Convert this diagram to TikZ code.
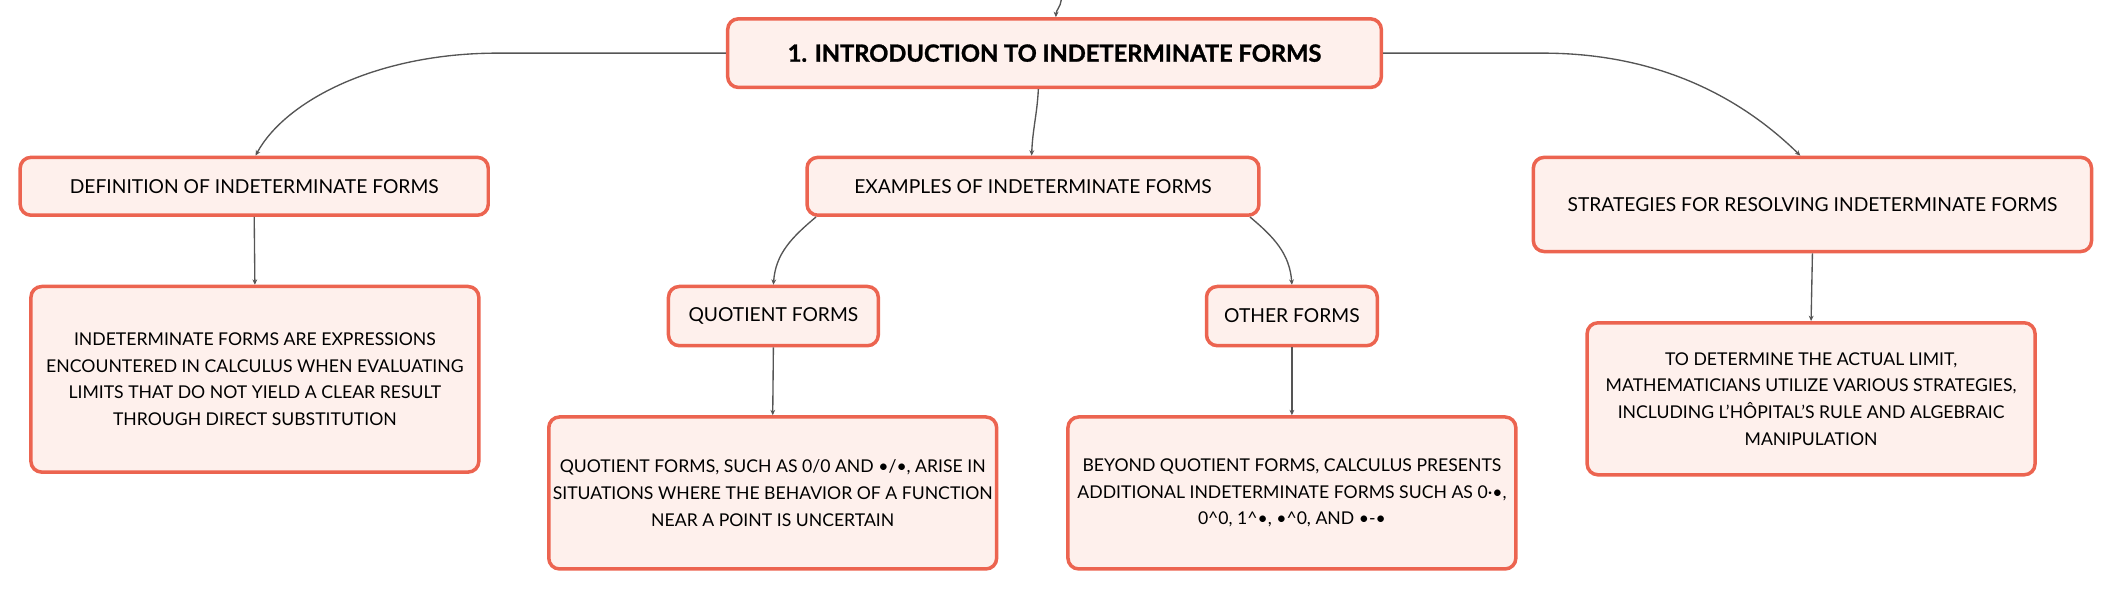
\documentclass[tikz,border=0pt]{standalone}
\usepackage{fontspec}
\setmainfont{Lato}
\usetikzlibrary{arrows.meta}
\definecolor{boxline}{HTML}{EC6450}
\definecolor{boxfill}{HTML}{FEF0EC}
\definecolor{linkgray}{HTML}{555555}
\begin{document}
\begin{tikzpicture}[x=0.5pt,y=-0.5pt,
  box/.style={draw=boxline,fill=boxfill,line width=1.3pt,rounded corners=4pt,
    align=center,inner sep=0pt,font=\fontsize{7.15}{9.9}\selectfont},
  note/.style={box,minimum width=166.5pt,font=\fontsize{6.55}{9.9}\selectfont},
  link/.style={draw=linkgray,line width=0.5pt,-{Stealth[length=2pt,width=1.8pt]}}]
\useasboundingbox (0,0) rectangle (1568,439.4);

\draw (784,39.5) node[box,minimum width=243pt,minimum height=25.5pt,font=\bfseries\addfontfeatures{FakeBold=1.2}\fontsize{8.8}{11}\selectfont] (root) {1. INTRODUCTION TO INDETERMINATE FORMS};
\draw (189,138.5) node[box,minimum width=174pt,minimum height=21.5pt] (d1) {DEFINITION OF INDETERMINATE FORMS};
\draw (189.5,282) node[note,minimum height=69pt] (d2) {INDETERMINATE FORMS ARE EXPRESSIONS\\ENCOUNTERED IN CALCULUS WHEN EVALUATING\\LIMITS THAT DO NOT YIELD A CLEAR RESULT\\THROUGH DIRECT SUBSTITUTION};
\draw (768,138.5) node[box,minimum width=168pt,minimum height=21.5pt] (e1) {EXAMPLES OF INDETERMINATE FORMS};
\draw (575,235) node[box,minimum width=78pt,minimum height=22pt] (q1) {QUOTIENT FORMS};
\draw (574.5,366.5) node[note,minimum height=56.5pt] (q2) {QUOTIENT FORMS, SUCH AS 0/0 AND •/•, ARISE IN\\SITUATIONS WHERE THE BEHAVIOR OF A FUNCTION\\NEAR A POINT IS UNCERTAIN};
\draw (960.5,235) node[box,minimum width=63.5pt,minimum height=22pt] (o1) {OTHER FORMS};
\draw (960.5,366.5) node[note,minimum height=56.5pt] (o2) {BEYOND QUOTIENT FORMS, CALCULUS PRESENTS\\ADDITIONAL INDETERMINATE FORMS SUCH AS 0·•,\\0\textasciicircum 0, 1\textasciicircum •, •\textasciicircum 0, AND •-•};
\draw (1347.5,152) node[box,minimum width=207.5pt,minimum height=35pt] (s1) {STRATEGIES FOR RESOLVING INDETERMINATE FORMS};
\draw (1346.5,296.5) node[note,minimum height=56.5pt] (s2) {TO DETERMINE THE ACTUAL LIMIT,\\MATHEMATICIANS UTILIZE VARIOUS STRATEGIES,\\INCLUDING L’HÔPITAL’S RULE AND ALGEBRAIC\\MANIPULATION};

\coordinate (top) at (789,0);
\coordinate (lbend) at (370,39.5);
\coordinate (rbend) at (1147,39.5);
\draw[link] (top) to[out=-95,in=88] ([xshift=0.5pt]root.north);
\draw[link] (root.west) -- (lbend) .. controls (280,39.5) and (212,75) .. ([xshift=0.5pt]d1.north);
\draw[link] (root.east) -- (rbend) .. controls (1240,39.5) and (1300,78) .. ([xshift=-4.5pt]s1.north);
\draw[link] ([xshift=-6pt]root.south) to[out=-93,in=88] ([xshift=-0.5pt]e1.north);
\draw[link] ([xshift=4pt]e1.south west) to[out=-140,in=86] (q1.north);
\draw[link] ([xshift=-4pt]e1.south east) to[out=-40,in=94] (o1.north);
\draw[link] (d1.south) -- (d2.north);
\draw[link] (q1.south) -- (q2.north);
\draw[link] (o1.south) -- (o2.north);
\draw[link] (s1.south) -- (s2.north);
\end{tikzpicture}
\end{document}
